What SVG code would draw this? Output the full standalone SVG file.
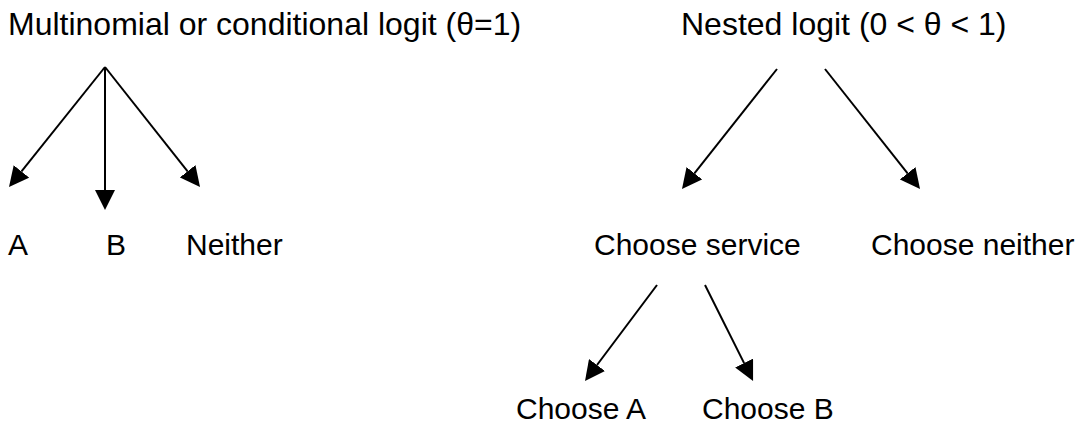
<svg xmlns="http://www.w3.org/2000/svg" width="1088" height="425" viewBox="0 0 1088 425">
  <style>
    .title { font-family: "Liberation Sans", Arial, sans-serif; font-size: 32px; fill: #000; }
    .label { font-family: "Liberation Sans", Arial, sans-serif; font-size: 30px; fill: #000; }
    .edge { stroke: #000; stroke-width: 2; fill: none; marker-end: url(#head); }
  </style>
  <defs>
    <marker id="head" markerUnits="userSpaceOnUse" markerWidth="20" markerHeight="20" refX="0" refY="10" orient="auto" viewBox="0 0 20 20">
      <path d="M0,0 L20,10 L0,20 Z" fill="#000"/>
    </marker>
  </defs>
  <rect width="1088" height="425" fill="#fff"/>

  <!-- Multinomial / conditional logit tree -->
  <g id="mnl-title"><text class="title" x="8" y="35">Multinomial or conditional logit (θ=1)</text></g>
  <g id="mnl-a"><text class="label" x="8" y="255">A</text></g>
  <g id="mnl-b"><text class="label" x="106" y="255">B</text></g>
  <g id="mnl-neither"><text class="label" x="186" y="255">Neither</text></g>

  <!-- Nested logit tree -->
  <g id="nl-title"><text class="title" x="681" y="35">Nested logit (0 &lt; θ &lt; 1)</text></g>
  <g id="nl-service"><text class="label" x="594" y="255">Choose service</text></g>
  <g id="nl-neither"><text class="label" x="871" y="255">Choose neither</text></g>
  <g id="nl-a"><text class="label" x="516" y="419">Choose A</text></g>
  <g id="nl-b"><text class="label" x="702" y="419">Choose B</text></g>

  <g id="connectors">
    <line class="edge" x1="105" y1="67" x2="21.5" y2="171.4"/>
    <line class="edge" x1="105" y1="67" x2="105" y2="190"/>
    <line class="edge" x1="105" y1="67" x2="187.6" y2="171.3"/>
    <line class="edge" x1="777" y1="69" x2="694.4" y2="173.3"/>
    <line class="edge" x1="825" y1="69" x2="907.6" y2="173.3"/>
    <line class="edge" x1="657" y1="285" x2="597" y2="365"/>
    <line class="edge" x1="705" y1="285" x2="744.1" y2="363.1"/>
  </g>
</svg>
